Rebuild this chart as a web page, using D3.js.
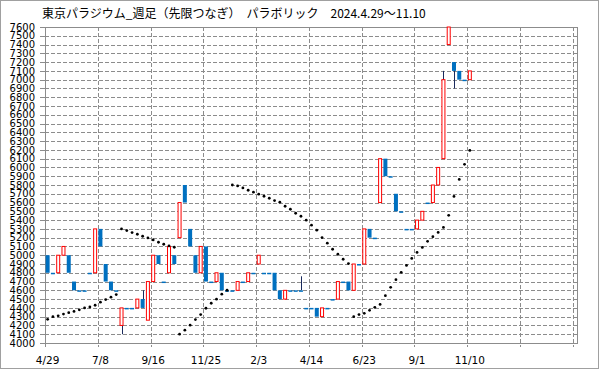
<!DOCTYPE html>
<head>
	<script src="https://d3js.org/d3.v7.min.js"></script>
	<style>body { margin: 0; }</style>
</head>
<body>
<script type="text/javascript">

	var w = 599;
	var h = 369;

	// weekly candles, one entry per week (index 0 = 4/29)
	var opens = [5000,4800,4800,5000,5000,4700,4600,4600,4800,4800,
		5300,4900,4700,4600,4200,4400,4400,4400,4500,4260,
		4700,5000,4700,4800,5000,5200,5800,5300,5000,4800,
		5100,4700,4700,4800,4600,4600,4600,4700,4700,4800,
		4900,4800,4800,4800,4600,4500,4600,4600,4600,4400,
		4400,4400,4300,4400,4500,4500,4700,4700,4600,4900,
		4900,5300,5200,5600,6100,5900,5700,5500,5300,5300,
		5300,5400,5600,5600,5800,6100,7400,7200,7100,7000,
		7000];
	var closes = [4800,4800,5000,5100,4800,4600,4600,4600,4800,5300,
		5100,4700,4600,4600,4400,4400,4400,4500,4400,4700,
		5000,4900,4700,5100,4900,5600,5600,5100,4800,5100,
		4700,4700,4800,4600,4600,4600,4700,4700,4800,4800,
		5000,4800,4800,4600,4500,4600,4600,4600,4600,4400,
		4400,4300,4400,4400,4500,4700,4700,4600,4900,4900,
		5300,5200,5200,6100,5900,5900,5500,5500,5300,5300,
		5400,5500,5600,5800,6000,7000,7600,7100,7000,7000,
		7100];
	// only weeks with a visible wick get a high / low different from the body
	var highs = {14: 4400, 18: 4600, 48: 4760, 75: 7100};
	var lows = {14: 4100, 77: 6900};

	var sar = [4270,4300,4310,4330,4345,4360,4378,4400,4410,4430,
		4465,4495,4522,4552,5300,5281,5258,5239,5216,5197,
		5174,5148,5125,5106,5091,4100,4146,4203,4267,4324,
		4396,4453,4499,4556,4601,5800,5790,5767,5740,5718,
		5695,5672,5649,5623,5604,5558,5524,5478,5444,5399,
		5342,5285,5201,5137,5068,5011,4954,4905,4300,4324,
		4338,4372,4406,4440,4539,4634,4721,4805,4884,4964,
		5032,5089,5158,5211,5260,5317,5454,5670,5864,6035,
		6194];

	var tickLabels = ["4/29","7/8","9/16","11/25","2/3","4/14","6/23","9/1","11/10"];
	var title = "東京パラジウム_週足（先限つなぎ）　パラボリック　2024.4.29～11.10";

	var svg = d3.select("body")
		.append("svg")
		.attr("width", w)
		.attr("height", h);

	svg.append("rect")
		.attr("x", 0.5).attr("y", 0.5)
		.attr("width", w - 1).attr("height", h - 1)
		.attr("fill", "white")
		.attr("stroke", "#a0a0a0");

	var pLeft = 45, pRight = 578, pTop = 27, pBottom = 343;

	var xScale = d3.scaleBand()
		.domain(d3.range(101))
		.range([pLeft, pRight]);

	var yScale = d3.scaleLinear()
		.domain([4000, 7600])
		.range([pBottom, pTop]);

	var yTicks = d3.range(4000, 7601, 100);

	// horizontal grid
	svg.selectAll(".hgrid")
		.data(yTicks.filter(function(d){ return d > 4000 && d < 7600; }))
		.enter()
		.append("line")
		.attr("x1", pLeft).attr("x2", pRight - 1)
		.attr("y1", function(d){ return Math.round(yScale(d)) + 0.5; })
		.attr("y2", function(d){ return Math.round(yScale(d)) + 0.5; })
		.attr("stroke", "#8c8c8c")
		.attr("stroke-dasharray", "4,2");

	// vertical grid every 10 weeks
	var vIdx = d3.range(10, 101, 10);
	svg.selectAll(".vgrid")
		.data(vIdx)
		.enter()
		.append("line")
		.attr("x1", function(d){ return Math.round(xScale(d)) + 0.5; })
		.attr("x2", function(d){ return Math.round(xScale(d)) + 0.5; })
		.attr("y1", pTop).attr("y2", pBottom + 4)
		.attr("stroke", "#8c8c8c")
		.attr("stroke-dasharray", "4,2");

	// y tick marks
	svg.selectAll(".ytick")
		.data(yTicks)
		.enter()
		.append("line")
		.attr("x1", pLeft - 5).attr("x2", pLeft)
		.attr("y1", function(d){ return Math.round(yScale(d)) + 0.5; })
		.attr("y2", function(d){ return Math.round(yScale(d)) + 0.5; })
		.attr("stroke", "#8c8c8c");

	svg.append("line")
		.attr("x1", pLeft + 0.5).attr("x2", pLeft + 0.5)
		.attr("y1", pBottom).attr("y2", pBottom + 4)
		.attr("stroke", "#8c8c8c");

	// frame
	svg.append("rect")
		.attr("x", pLeft + 0.5).attr("y", pTop + 0.5)
		.attr("width", 532).attr("height", pBottom - pTop)
		.attr("fill", "none")
		.attr("stroke", "#8c8c8c");

	svg.selectAll(".ylab")
		.data(yTicks)
		.enter()
		.append("text")
		.attr("x", 35)
		.attr("y", function(d){ return yScale(d) + 3.7; })
		.attr("text-anchor", "end")
		.attr("font-family", "DejaVu Sans")
		.attr("font-size", "10px")
		.attr("fill", "#000")
		.text(function(d){ return d; });

	svg.selectAll(".xlab")
		.data(tickLabels)
		.enter()
		.append("text")
		.attr("x", function(d, i){ return xScale(i * 10) + xScale.bandwidth() / 2; })
		.attr("y", 364)
		.attr("text-anchor", "middle")
		.attr("font-family", "DejaVu Sans")
		.attr("font-size", "10.5px")
		.attr("fill", "#000")
		.text(function(d){ return d; });

	svg.append("text")
		.attr("x", 42)
		.attr("y", 18)
		.attr("font-family", "Noto Sans CJK JP")
		.attr("font-size", "12px")
		.attr("fill", "#000")
		.text(title);

	var candles = d3.range(opens.length).map(function(i){
		var o = opens[i], c = closes[i];
		return {
			i: i, o: o, c: c,
			hi: highs[i] !== undefined ? highs[i] : Math.max(o, c),
			lo: lows[i] !== undefined ? lows[i] : Math.min(o, c)
		};
	});

	var cw = 4;
	function cx(d){ return xScale(d.i) + xScale.bandwidth() / 2; }

	// wicks
	svg.selectAll(".wick")
		.data(candles.filter(function(d){ return d.hi > Math.max(d.o, d.c) || d.lo < Math.min(d.o, d.c); }))
		.enter()
		.append("line")
		.attr("x1", function(d){ return Math.round(cx(d)) + 0.5; })
		.attr("x2", function(d){ return Math.round(cx(d)) + 0.5; })
		.attr("y1", function(d){ return yScale(d.hi); })
		.attr("y2", function(d){ return yScale(d.lo); })
		.attr("stroke", "#1a2a5c")
		.attr("stroke-width", 1);

	// down / unchanged weeks: filled blue
	svg.selectAll(".down")
		.data(candles.filter(function(d){ return d.c <= d.o; }))
		.enter()
		.append("rect")
		.attr("x", function(d){ return cx(d) - cw / 2; })
		.attr("y", function(d){ return yScale(d.o); })
		.attr("width", cw)
		.attr("height", function(d){ return Math.max(1.5, yScale(d.c) - yScale(d.o)); })
		.attr("fill", "#0070c0");

	// up weeks: hollow red
	svg.selectAll(".up")
		.data(candles.filter(function(d){ return d.c > d.o; }))
		.enter()
		.append("rect")
		.attr("x", function(d){ return cx(d) - cw / 2 + 0.5; })
		.attr("y", function(d){ return yScale(d.c); })
		.attr("width", cw - 1)
		.attr("height", function(d){ return yScale(d.o) - yScale(d.c); })
		.attr("fill", "white")
		.attr("stroke", "#ff0000")
		.attr("stroke-width", 1);

	// parabolic SAR
	svg.selectAll(".sar")
		.data(sar)
		.enter()
		.append("circle")
		.attr("cx", function(d, i){ return xScale(i) + xScale.bandwidth() / 2; })
		.attr("cy", function(d){ return yScale(d); })
		.attr("r", 1.4)
		.attr("fill", "#000");

</script>
</body>
